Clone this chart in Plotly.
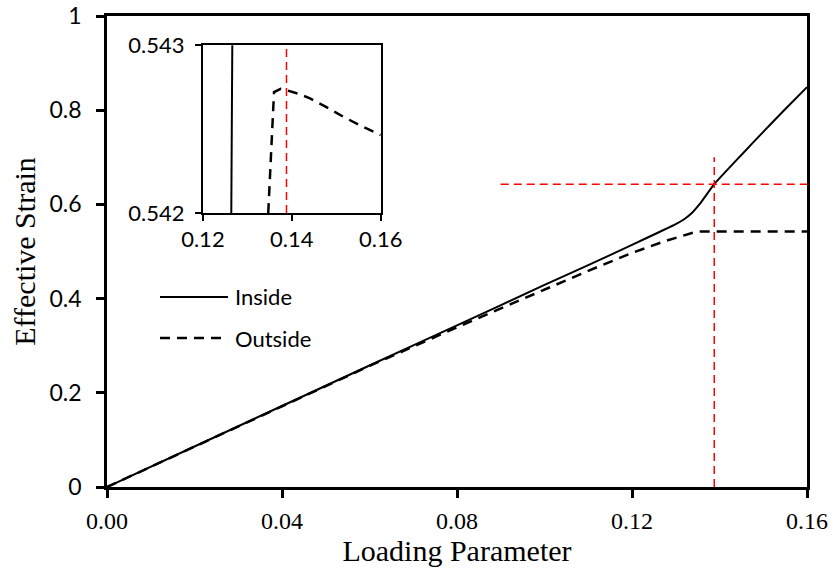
import plotly.graph_objects as go

# ---------------- data ----------------
load_inside = [0.0, 0.02, 0.04, 0.06, 0.08, 0.10, 0.11, 0.12, 0.1265, 0.13, 0.132, 0.1335,
               0.1355, 0.1388, 0.145, 0.15, 0.155, 0.16]
strain_inside = [0.0, 0.086, 0.172, 0.258, 0.343, 0.429, 0.471, 0.514, 0.5425, 0.558, 0.569, 0.580,
                 0.601, 0.643, 0.705, 0.754, 0.802, 0.849]

load_outside = [0.0, 0.04, 0.06, 0.08, 0.09, 0.10, 0.11, 0.12, 0.125, 0.128, 0.13, 0.1325,
                0.1347, 0.136, 0.1375, 0.1388, 0.1415, 0.1441, 0.148, 0.1516, 0.155, 0.16]
strain_outside = [0.0, 0.172, 0.257, 0.339, 0.379, 0.419, 0.459, 0.497, 0.514, 0.5235, 0.529,
                  0.5360, 0.542, 0.54272, 0.54274, 0.542732, 0.54271, 0.542683, 0.542628,
                  0.542573, 0.542527, 0.542464]

crit_load = 0.1388
crit_strain = 0.643
hline_start = 0.09
vline_top = 0.70

x_ticks = [0.0, 0.04, 0.08, 0.12, 0.16]
x_ticktext = ["0.00", "0.04", "0.08", "0.12", "0.16"]
y_ticks = [0, 0.2, 0.4, 0.6, 0.8, 1.0]
y_ticktext = ["0", "0.2", "0.4", "0.6", "0.8", "1"]
inset_x_ticks = [0.12, 0.14, 0.16]
inset_x_ticktext = ["0.12", "0.14", "0.16"]
inset_y_ticks = [0.542, 0.543]
inset_y_ticktext = ["0.542", "0.543"]

SERIF = "Liberation Serif"
SANS = "Lato"

fig = go.Figure()

# main curves
fig.add_trace(go.Scatter(x=load_inside, y=strain_inside, mode="lines", name="Inside",
                         line=dict(color="black", width=2, shape="spline", smoothing=0.4),
                         xaxis="x", yaxis="y"))
fig.add_trace(go.Scatter(x=load_outside, y=strain_outside, mode="lines", name="Outside",
                         line=dict(color="black", width=2.5, dash="10px,7px"),
                         xaxis="x", yaxis="y"))
# inset curves
fig.add_trace(go.Scatter(x=load_inside, y=strain_inside, mode="lines", showlegend=False,
                         line=dict(color="black", width=2), xaxis="x2", yaxis="y2"))
fig.add_trace(go.Scatter(x=load_outside, y=strain_outside, mode="lines", showlegend=False,
                         line=dict(color="black", width=2.5, dash="10px,7px"),
                         xaxis="x2", yaxis="y2"))

red = dict(color="#FF0000", width=1.5, dash="8px,5px")
fig.add_shape(type="line", xref="x", yref="y", x0=crit_load, x1=crit_load, y0=0, y1=vline_top, line=red)
fig.add_shape(type="line", xref="x", yref="y", x0=hline_start, x1=0.16, y0=crit_strain, y1=crit_strain, line=red)
fig.add_shape(type="line", xref="x2", yref="y2", x0=crit_load, x1=crit_load,
              y0=inset_y_ticks[0], y1=inset_y_ticks[1], line=red)

# legend (drawn manually for long line samples)
leg_x0, leg_x1 = 0.0757, 0.1729
fig.add_shape(type="line", xref="paper", yref="paper", x0=leg_x0, x1=leg_x1, y0=0.4034, y1=0.4034,
              line=dict(color="black", width=2))
fig.add_shape(type="line", xref="paper", yref="paper", x0=leg_x0, x1=leg_x1, y0=0.3163, y1=0.3163,
              line=dict(color="black", width=2.5, dash="10px,7px"))
fig.add_annotation(xref="paper", yref="paper", x=0.18, y=0.4034, text="Inside", showarrow=False,
                   xanchor="left", yanchor="middle", font=dict(family=SANS, size=22, color="black"))
fig.add_annotation(xref="paper", yref="paper", x=0.18, y=0.3163, text="Outside", showarrow=False,
                   xanchor="left", yanchor="middle", font=dict(family=SANS, size=22, color="black"))

axis_common = dict(showline=True, linecolor="black", mirror=True, ticks="outside",
                   tickcolor="black", showgrid=False, zeroline=False, automargin=False)

fig.update_layout(
    width=833, height=574,
    margin=dict(l=107, r=26, t=16, b=87),
    plot_bgcolor="white", paper_bgcolor="white",
    showlegend=False,
    xaxis=dict(**axis_common, domain=[0, 1], range=[0, 0.16], tickvals=x_ticks, ticktext=x_ticktext,
               linewidth=2.5, ticklen=8, tickwidth=2.5, ticklabelstandoff=2,
               tickfont=dict(family=SERIF, size=24, color="black"),
               title=dict(text="Loading Parameter", font=dict(family=SERIF, size=30, color="black"),
                          standoff=8)),
    yaxis=dict(**axis_common, domain=[0, 1], range=[0, 1], tickvals=y_ticks, ticktext=y_ticktext,
               linewidth=2.5, ticklen=8, tickwidth=2.5, ticklabelstandoff=10,
               tickfont=dict(family=SANS, size=23, color="black"),
               title=dict(text="Effective Strain", font=dict(family=SERIF, size=30, color="black"),
                          standoff=6)),
    xaxis2=dict(**axis_common, domain=[0.137, 0.391], anchor="y2", range=[0.12, 0.16],
                tickvals=inset_x_ticks, ticktext=inset_x_ticktext, linewidth=2, ticklen=6, tickwidth=2,
                tickfont=dict(family=SANS, size=22, color="black")),
    yaxis2=dict(**axis_common, domain=[0.582, 0.938], anchor="x2", range=[0.542, 0.543],
                tickvals=inset_y_ticks, ticktext=inset_y_ticktext, linewidth=2, ticklen=6, tickwidth=2,
                ticklabelstandoff=6,
                tickfont=dict(family=SANS, size=22, color="black")),
)

fig.write_html("out.html")
